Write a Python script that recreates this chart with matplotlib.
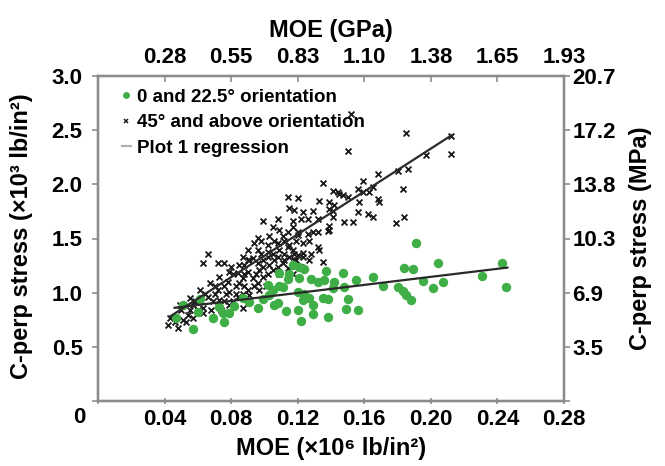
import matplotlib
matplotlib.use('Agg')
import matplotlib.pyplot as plt
from matplotlib.lines import Line2D

plt.rcParams['font.family'] = ['Liberation Sans', 'DejaVu Sans']
plt.rcParams['font.weight'] = 'bold'

# 0 and 22.5 deg orientation (MOE x10^6 psi, stress x10^3 psi)
green_x = [0.047, 0.051, 0.057, 0.060, 0.061, 0.069, 0.073, 0.075, 0.076, 0.079,
           0.082, 0.087, 0.091, 0.096, 0.099, 0.102, 0.105, 0.103, 0.108, 0.106,
           0.109, 0.114, 0.115, 0.111, 0.113, 0.117, 0.121, 0.124, 0.120, 0.120,
           0.121, 0.128, 0.132, 0.136, 0.137, 0.142, 0.141, 0.148, 0.147, 0.155,
           0.165, 0.171, 0.124, 0.127, 0.123, 0.135, 0.138, 0.129, 0.150, 0.149,
           0.156, 0.129, 0.138, 0.122, 0.109, 0.180, 0.183, 0.185, 0.188, 0.191,
           0.184, 0.189, 0.204, 0.195, 0.207, 0.201, 0.231, 0.243, 0.245]
green_y = [0.768, 0.889, 0.667, 0.824, 0.944, 0.768, 0.870, 0.815, 0.731, 0.815,
           0.880, 0.954, 0.917, 0.861, 0.944, 1.074, 1.028, 0.981, 0.907, 0.889,
           1.185, 1.130, 1.176, 1.056, 0.833, 1.259, 1.241, 1.222, 1.009, 0.843,
           1.139, 1.130, 1.102, 1.120, 1.204, 1.102, 1.046, 1.056, 1.185, 1.120,
           1.148, 1.065, 0.991, 0.954, 0.935, 0.954, 0.944, 0.889, 0.944, 0.852,
           0.843, 0.806, 0.778, 0.741, 1.065, 1.056, 1.019, 0.981, 0.935, 1.463,
           1.231, 1.222, 1.278, 1.111, 1.102, 1.046, 1.157, 1.278, 1.056]

# 45 deg and above orientation
black_x = [0.152, 0.150, 0.185, 0.212, 0.212, 0.197, 0.186, 0.180, 0.168, 0.159,
           0.165, 0.156, 0.159, 0.150, 0.168, 0.144, 0.147, 0.141, 0.157, 0.169,
           0.142, 0.141, 0.183, 0.156, 0.162, 0.165, 0.148, 0.153, 0.179, 0.184,
           0.139, 0.139, 0.135, 0.145, 0.163, 0.114, 0.120, 0.133, 0.139, 0.115,
           0.118, 0.123, 0.129, 0.139, 0.117, 0.126, 0.141, 0.099, 0.105, 0.109,
           0.117, 0.114, 0.129, 0.096, 0.103, 0.111, 0.120, 0.126, 0.132, 0.094,
           0.102, 0.108, 0.115, 0.123, 0.132, 0.090, 0.096, 0.102, 0.109, 0.117,
           0.123, 0.133, 0.087, 0.093, 0.102, 0.108, 0.115, 0.123, 0.135, 0.088,
           0.096, 0.103, 0.111, 0.118, 0.090, 0.097, 0.105, 0.114, 0.087, 0.093,
           0.099, 0.120, 0.138, 0.120, 0.066, 0.063, 0.072, 0.076, 0.079, 0.085,
           0.091, 0.114, 0.108, 0.073, 0.084, 0.067, 0.078, 0.085, 0.096, 0.061,
           0.072, 0.079, 0.090, 0.097, 0.055, 0.066, 0.073, 0.084, 0.091, 0.049,
           0.057, 0.063, 0.079, 0.087, 0.043, 0.054, 0.063, 0.042, 0.048, 0.051,
           0.057,
           # denser core of the cloud
           0.090, 0.099, 0.106, 0.112, 0.119, 0.127, 0.098, 0.105, 0.112, 0.118,
           0.128, 0.081, 0.088, 0.095, 0.102, 0.109, 0.117, 0.070, 0.076, 0.083,
           0.088, 0.094, 0.101, 0.110, 0.064, 0.070, 0.077, 0.083, 0.087, 0.058,
           0.062, 0.069, 0.076, 0.081, 0.050, 0.055, 0.060, 0.068, 0.074, 0.046,
           0.053, 0.098, 0.106, 0.112, 0.119, 0.127, 0.108, 0.122, 0.132, 0.080,
           0.099, 0.122]
black_y = [2.648, 2.306, 2.472, 2.444, 2.278, 2.269, 2.139, 2.120, 2.093, 2.028,
           1.972, 1.954, 1.926, 1.880, 1.861, 1.926, 1.898, 1.935, 1.833, 1.833,
           1.806, 1.750, 1.954, 1.741, 1.722, 1.694, 1.648, 1.648, 1.639, 1.694,
           1.611, 1.583, 2.009, 1.907, 1.926, 1.880, 1.870, 1.843, 1.833, 1.778,
           1.759, 1.741, 1.750, 1.769, 1.657, 1.676, 1.694, 1.657, 1.602, 1.583,
           1.602, 1.556, 1.556, 1.509, 1.519, 1.519, 1.528, 1.537, 1.556, 1.463,
           1.444, 1.463, 1.444, 1.463, 1.426, 1.398, 1.398, 1.380, 1.398, 1.398,
           1.370, 1.398, 1.333, 1.324, 1.333, 1.333, 1.333, 1.333, 1.287, 1.259,
           1.278, 1.259, 1.278, 1.306, 1.194, 1.213, 1.213, 1.231, 1.139, 1.139,
           1.148, 1.556, 1.565, 1.352, 1.361, 1.278, 1.278, 1.278, 1.194, 1.259,
           1.306, 1.426, 1.241, 1.148, 1.185, 1.093, 1.102, 1.093, 1.093, 1.028,
           1.028, 1.009, 1.028, 1.028, 0.954, 0.963, 0.935, 0.963, 0.981, 0.889,
           0.889, 0.861, 0.889, 0.861, 0.768, 0.796, 0.815, 0.704, 0.676, 0.750,
           0.768,
           1.300, 1.300, 1.300, 1.300, 1.300, 1.300, 1.360, 1.360, 1.360, 1.360,
           1.360, 1.170, 1.170, 1.170, 1.170, 1.170, 1.170, 1.060, 1.060, 1.060,
           1.060, 1.060, 1.060, 1.060, 0.990, 0.990, 0.990, 0.990, 0.990, 0.920,
           0.920, 0.920, 0.920, 0.920, 0.840, 0.840, 0.840, 0.840, 0.840, 0.730,
           0.730, 1.480, 1.480, 1.480, 1.480, 1.480, 1.680, 1.680, 1.680, 1.240,
           1.240, 1.240]

# Plot 1 regression lines: slope, intercept, x range
green_fit = [1.855, 0.775]
green_fit_x = [0.046, 0.246]
black_fit = [9.89, 0.352]
black_fit_x = [0.043, 0.2125]

x_ticks = [0, 0.04, 0.08, 0.12, 0.16, 0.20, 0.24, 0.28]
x_labels = ['', '0.04', '0.08', '0.12', '0.16', '0.20', '0.24', '0.28']
top_ticks = [0.04, 0.08, 0.12, 0.16, 0.20, 0.24, 0.28]
top_labels = ['0.28', '0.55', '0.83', '1.10', '1.38', '1.65', '1.93']
y_ticks = [0, 0.5, 1.0, 1.5, 2.0, 2.5, 3.0]
y_labels = ['', '0.5', '1.0', '1.5', '2.0', '2.5', '3.0']
right_labels = ['', '3.5', '6.9', '10.3', '13.8', '17.2', '20.7']

green = '#3fae46'
spine_col = '#8c8c8c'

fig = plt.figure(figsize=(6.65, 4.66), dpi=100)
ax = fig.add_axes([98 / 665, 65 / 466, 466 / 665, 325 / 466])

ax.scatter(black_x, black_y, marker='x', s=18, c='#1a1a1a', linewidths=1.3, zorder=2)
ax.scatter(green_x, green_y, marker='o', s=46, c=green, linewidths=0, zorder=3)

for fit, xr in [(green_fit, green_fit_x), (black_fit, black_fit_x)]:
    ys = [fit[0] * v + fit[1] for v in xr]
    ax.plot(xr, ys, color='#2a2a2a', lw=1.6, zorder=4)

ax.set_xlim(0, 0.28)
ax.set_ylim(0, 3.0)
ax.set_xticks(x_ticks)
ax.set_xticklabels(x_labels)
ax.set_yticks(y_ticks)
ax.set_yticklabels(y_labels)

for s in ax.spines.values():
    s.set_color(spine_col)
    s.set_linewidth(1.6)
ax.tick_params(axis='both', colors=spine_col, labelcolor='black', labelsize=16,
               length=4, width=1.2)
ax.tick_params(axis='x', direction='inout', pad=4)
ax.tick_params(axis='y', pad=7)
ax.text(-0.04, -0.017, '0', transform=ax.transAxes, ha='center', va='top',
        fontsize=16, fontweight='bold')

top = ax.twiny()
top.set_xlim(ax.get_xlim())
top.set_xticks(top_ticks)
top.set_xticklabels(top_labels)
top.tick_params(axis='x', colors=spine_col, labelcolor='black', labelsize=16,
                length=4, width=1.2, direction='in', pad=6)

right = ax.twinx()
right.set_ylim(ax.get_ylim())
right.set_yticks(y_ticks)
right.set_yticklabels(right_labels)
right.tick_params(axis='y', colors=spine_col, labelcolor='black', labelsize=16,
                  length=4, width=1.2, pad=2)
for a in (top, right):
    for s in a.spines.values():
        s.set_color(spine_col)
        s.set_linewidth(1.6)

fig.text(331 / 665, 1 - 30 / 466, 'MOE (GPa)', ha='center', va='center', fontsize=17)
fig.text(331 / 665, 1 - 449 / 466, 'MOE (×10⁶ lb/in²)', ha='center', va='center', fontsize=17)
fig.text(22 / 665, 1 - 236 / 466, 'C-perp stress (×10³ lb/in²)', rotation=90,
         ha='center', va='center', fontsize=17)
fig.text(640 / 665, 1 - 238 / 466, 'C-perp stress (MPa)', rotation=90,
         ha='center', va='center', fontsize=17)

handles = [
    Line2D([], [], ls='', marker='o', ms=5, color=green, mew=0),
    Line2D([], [], ls='', marker='x', ms=3.5, color='#1a1a1a', mew=1.1),
    Line2D([], [], color='#b0b0b0', lw=1.6),
]
labels = ['0 and 22.5° orientation', '45° and above orientation', 'Plot 1 regression']
ax.legend(handles, labels, loc='upper left', bbox_to_anchor=(0.035, 0.985),
          frameon=False, fontsize=13.5, handlelength=0.5, handletextpad=0.3,
          labelspacing=0.45, borderaxespad=0)

fig.savefig('out.png', dpi=100)
